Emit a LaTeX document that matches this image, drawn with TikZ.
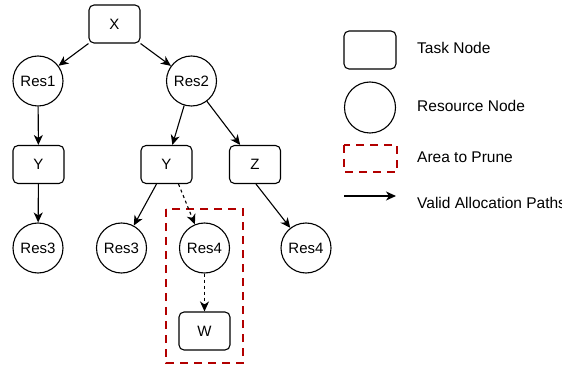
\documentclass[tikz,border=0pt]{standalone}
\usepackage{fontspec}
\setmainfont{Liberation Sans}
\usetikzlibrary{arrows.meta}
\begin{document}
\begin{tikzpicture}[x=1pt,y=-1pt,
  task/.style={draw,line width=1.1pt,rounded corners=5pt,minimum width=51pt,minimum height=38pt,inner sep=0pt,font=\fontsize{15}{18}\selectfont},
  res/.style={draw,line width=1.1pt,circle,minimum size=50pt,inner sep=0pt,font=\fontsize{15}{18}\selectfont},
  arr/.style={line width=1.1pt,-{Stealth[length=10pt,width=9pt,inset=3pt]}},
  darr/.style={arr,dash pattern=on 3pt off 3pt},
  prune/.style={draw=prunered,line width=2.5pt,dash pattern=on 8pt off 6pt},
  legtext/.style={anchor=base west,inner sep=0pt,font=\fontsize{15.5}{18}\selectfont}]
\definecolor{prunered}{HTML}{B20000}
\useasboundingbox (0,0) rectangle (562,366);
% prune area
\draw[prune] (166,209) rectangle (243,363);
% nodes
\node[task] (X) at (114.5,24) {X};
\node[res] (R1) at (38,81) {Res1};
\node[res] (R2) at (191.5,81) {Res2};
\node[task] (Y1) at (38.5,164.5) {Y};
\node[task] (Y2) at (166.5,164.5) {Y};
\node[task] (Z) at (255,164.5) {Z};
\node[res] (R3a) at (38,248) {Res3};
\node[res] (R3b) at (121.5,248) {Res3};
\node[res] (R4a) at (204.5,248) {Res4};
\node[res] (R4b) at (306,248) {Res4};
\node[task] (W) at (204.5,331) {W};
% edges
\draw[arr] (X.south west) -- (R1);
\draw[arr] (X.south east) -- (R2);
\draw[arr] (R1) -- (Y1);
\draw[arr] (R2) -- (Y2);
\draw[arr] (R2) -- (Z);
\draw[arr] (Y1) -- (R3a);
\draw[arr] ([xshift=-10pt]Y2.south) -- (R3b);
\draw[darr] ([xshift=12pt]Y2.south) -- (R4a);
\draw[arr] ([xshift=1pt]Z.south) -- (R4b);
\draw[darr] (R4a) -- (W);
% legend
\node[task,minimum width=52pt] (LT) at (370,50) {};
\node[res,minimum size=51pt] (LR) at (370,107.5) {};
\draw[prune] (344,145) rectangle (397,172);
\coordinate (LA1) at (344,196);
\coordinate (LA2) at (396,196);
\draw[arr] (LA1) -- (LA2);
\node[legtext] (T1) at (417,54) {Task Node};
\node[legtext] (T2) at (417,112) {Resource Node};
\node[legtext] (T3) at (417,163) {Area to Prune};
\node[legtext] (T4) at (417,208) {Valid Allocation Paths};
\end{tikzpicture}
\end{document}
